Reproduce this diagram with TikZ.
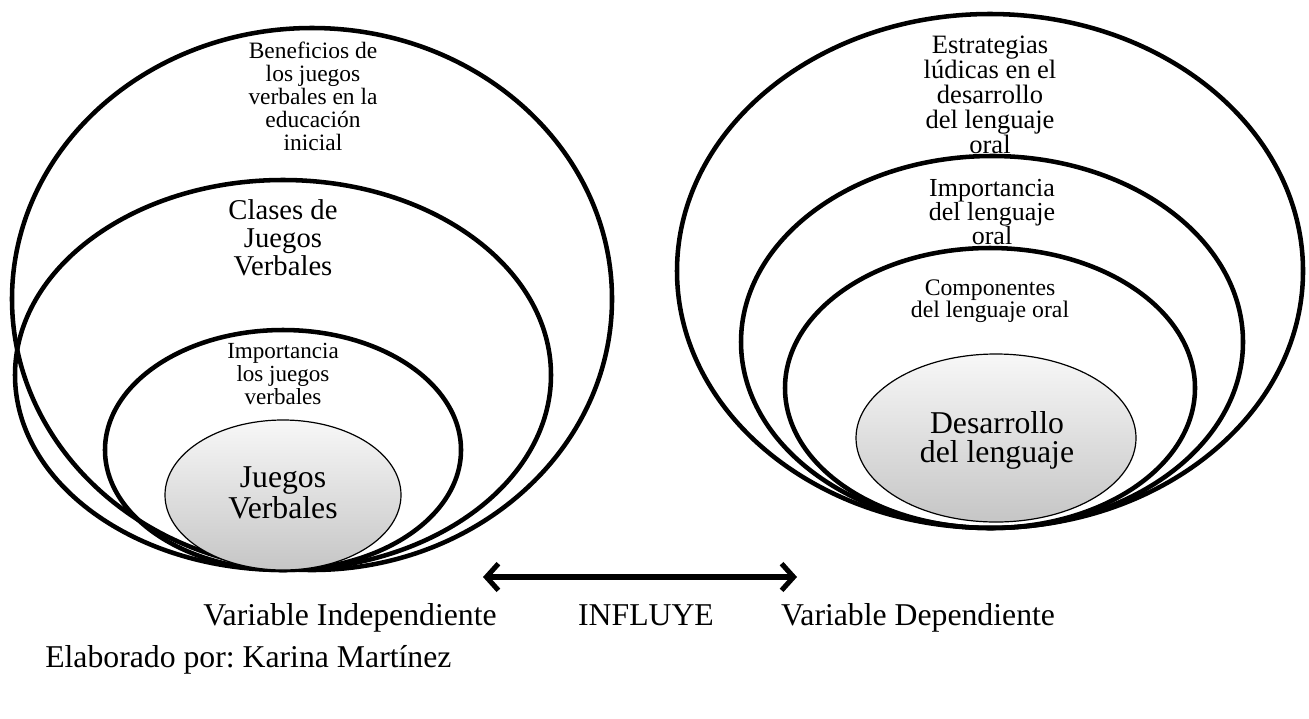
\documentclass[tikz,border=0pt]{standalone}
\usepackage{tikz,color}
\usepackage{fontspec}
\setmainfont{Liberation Serif}
\usetikzlibrary{shapes.geometric,arrows.meta}

\tikzset{
  aro/.style={draw=black, line width=3.4pt},
  nucleo/.style={draw=black, line width=0.9pt, top color=gray!6, bottom color=gray!45},
  flecha/.style={line width=3.8pt, {Straight Barb[length=9pt,width=20pt]}-{Straight Barb[length=9pt,width=20pt]}},
  rotulo/.style={align=center, inner sep=0pt},
  pie/.style={inner sep=0pt, anchor=base, font=\fontsize{23.8}{24}\selectfont},
}

\begin{document}
\frenchspacing
\begin{tikzpicture}[x=0.75pt, y=-0.75pt]
\useasboundingbox (0,0) rectangle (1309,718);

% variable independiente
\draw[aro] (312,299) ellipse [x radius=300, y radius=271];
\draw[aro] (283,375) ellipse [x radius=268, y radius=195];
\draw[aro] (283,450) ellipse [x radius=178, y radius=120];
\draw[nucleo] (283,495) ellipse [x radius=118, y radius=75];

\node[rotulo, font=\fontsize{17.6}{17.3}\selectfont] (beneficios) at (313,96)
  {Beneficios de\\los juegos\\verbales en la\\educación\\inicial};
\node[rotulo, font=\fontsize{21.5}{21}\selectfont] (clases) at (283,238)
  {Clases de\\Juegos\\Verbales};
\node[rotulo, font=\fontsize{17.3}{17.2}\selectfont] (importanciaJ) at (283,374)
  {Importancia\\los juegos\\verbales};
\node[rotulo, font=\fontsize{23.8}{23.2}\selectfont] (juegos) at (283,493)
  {Juegos\\Verbales};

% variable dependiente
\draw[aro] (990,271) ellipse [x radius=313, y radius=257];
\draw[aro] (992,342) ellipse [x radius=251, y radius=186];
\draw[aro] (990,388) ellipse [x radius=205, y radius=140];
\draw[nucleo] (996,438) ellipse [x radius=140, y radius=84];

\node[rotulo, font=\fontsize{19.9}{18.8}\selectfont] (estrategias) at (990,95)
  {Estrategias\\lúdicas en el\\desarrollo\\del lenguaje\\oral};
\node[rotulo, font=\fontsize{19.5}{18}\selectfont] (importanciaL) at (992,212)
  {Importancia\\del lenguaje\\oral};
\node[rotulo, font=\fontsize{17.8}{16.9}\selectfont] (componentes) at (990,301)
  {Componentes\\del lenguaje oral};
\node[rotulo, font=\fontsize{23.8}{21.8}\selectfont] (desarrollo) at (997,440)
  {Desarrollo\\del lenguaje};

% relacion entre variables
\coordinate (izq) at (483,577);
\coordinate (der) at (797,577);
\draw[flecha] (izq) -- (der);

\node[pie] (vi) at (350,625) {Variable Independiente};
\node[pie] (influye) at (646,625) {INFLUYE};
\node[pie] (vd) at (918,625) {Variable Dependiente};
\node[pie, anchor=base west] (autor) at (45,667) {Elaborado por: Karina Martínez};
\end{tikzpicture}
\end{document}
